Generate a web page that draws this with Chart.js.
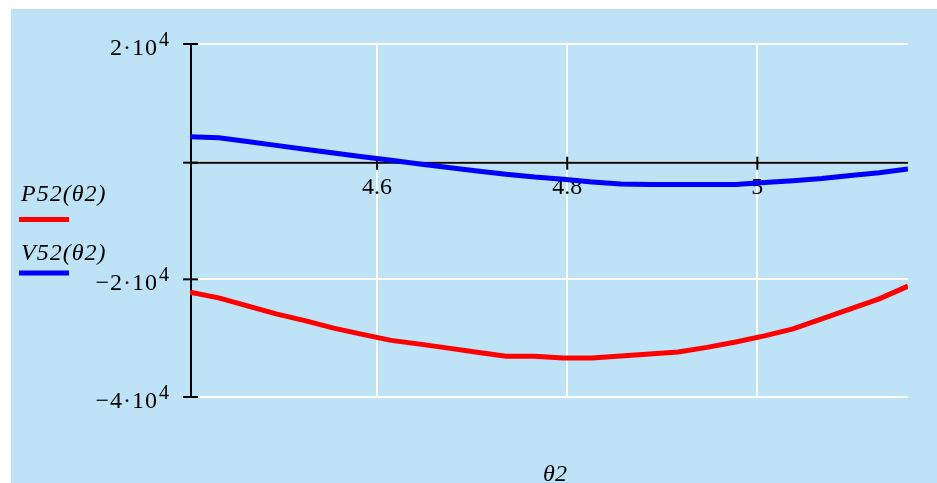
<!DOCTYPE html>
<html>
<head>
<meta charset="utf-8">
<script src="https://cdn.jsdelivr.net/npm/chart.js@4.4.0/dist/chart.umd.min.js"></script>
<style>
  html, body { margin: 0; padding: 0; background: #ffffff; }
  #wrap { position: relative; width: 937px; height: 483px; overflow: hidden; }
  #panel { position: absolute; left: 11px; top: 9px; width: 926px; height: 474px; background: #BEE3F6; }
  #c { position: absolute; left: 0; top: 0; }
</style>
</head>
<body>
<div id="wrap">
  <div id="panel"></div>
  <canvas id="c" width="937" height="483"></canvas>
</div>
<script>
// ---- data ----
const thetaValues = [4.4032, 4.4334, 4.4636, 4.4938, 4.5240, 4.5543, 4.5845, 4.6147, 4.6449, 4.6751,
                     4.7053, 4.7355, 4.7657, 4.7959, 4.8261, 4.8564, 4.8866, 4.9168, 4.9470, 4.9772,
                     5.0074, 5.0376, 5.0678, 5.0980, 5.1282, 5.1585];
const p52Values = [-22200, -23150, -24500, -25870, -27010, -28300, -29360, -30380, -31010, -31690,
                   -32390, -33070, -33070, -33360, -33360, -33050, -32680, -32340, -31570, -30640,
                   -29620, -28420, -26720, -25020, -23320, -21160];
const v52Values = [4250, 4080, 3440, 2770, 2110, 1460, 820, 250, -400, -1000,
                   -1600, -2130, -2620, -3000, -3450, -3800, -3900, -3900, -3900, -3900,
                   -3550, -3250, -2870, -2370, -1900, -1250];
const seriesNames = ['P52(\u03B82)', 'V52(\u03B82)'];
const seriesColors = ['#FF0000', '#0000FF'];
const xTickValues = [4.6, 4.8, 5];
const xTickLabels = ['4.6', '4.8', '5'];
const yTickValues = [-40000, -20000, 0, 20000];
const yTickBases = ['\u22124\u00B710', '\u22122\u00B710', '', '2\u00B710'];
const yTickExps = ['4', '4', '', '4'];
const xTitle = '\u03B82';
const xMin = 4.4032, xMax = 5.1585, yMin = -40000, yMax = 20000;

const SERIF = '"Liberation Serif", "Times New Roman", serif';

const decor = {
  id: 'decor',
  beforeDatasetsDraw(chart) {
    const ctx = chart.ctx, ca = chart.chartArea;
    const xs = chart.scales.x, ys = chart.scales.y;
    const z = ys.getPixelForValue(0);
    ctx.save();
    ctx.strokeStyle = '#000';
    ctx.lineWidth = 2;
    // zero line (x axis)
    ctx.beginPath(); ctx.moveTo(ca.left, z + 1); ctx.lineTo(ca.right, z + 1); ctx.stroke();
    // y axis
    ctx.beginPath(); ctx.moveTo(ca.left + 1, ca.top); ctx.lineTo(ca.left + 1, ca.bottom); ctx.stroke();
    // y tick marks
    yTickValues.forEach(v => {
      const p = ys.getPixelForValue(v) + (v === 0 ? 1 : 0);
      ctx.beginPath(); ctx.moveTo(ca.left - 7, p); ctx.lineTo(ca.left + 8, p); ctx.stroke();
    });
    // x tick marks
    xTickValues.forEach(v => {
      const p = xs.getPixelForValue(v);
      ctx.beginPath(); ctx.moveTo(p, z - 5); ctx.lineTo(p, z + 8); ctx.stroke();
    });
    ctx.restore();
  },
  afterDraw(chart) {
    const ctx = chart.ctx, ys = chart.scales.y;
    ctx.save();
    ctx.fillStyle = '#000';
    // y tick labels with superscript exponent
    yTickValues.forEach((v, i) => {
      if (!yTickBases[i]) return;
      const p = ys.getPixelForValue(v);
      ctx.font = '20px ' + SERIF;
      ctx.textAlign = 'right';
      ctx.textBaseline = 'alphabetic';
      const expRight = 169;
      const ew = ctx.measureText(yTickExps[i]).width;
      ctx.fillText(yTickExps[i], expRight, p + 2);
      ctx.font = '24px ' + SERIF;
      try { ctx.letterSpacing = '1px'; } catch (e) {}
      ctx.fillText(yTickBases[i], expRight - ew - 1, p + 11);
      try { ctx.letterSpacing = '0px'; } catch (e) {}
    });
    // legend
    ctx.textAlign = 'left';
    ctx.textBaseline = 'alphabetic';
    ctx.font = 'italic 24px ' + SERIF;
    const legendBase = [201, 260];
    const legendLine = [219.5, 273];
    seriesNames.forEach((n, i) => {
      ctx.fillStyle = '#000';
      try { ctx.letterSpacing = '1px'; } catch (e) {}
      ctx.fillText(n, 21, legendBase[i]);
      try { ctx.letterSpacing = '0px'; } catch (e) {}
      ctx.strokeStyle = seriesColors[i];
      ctx.lineWidth = 5;
      ctx.beginPath(); ctx.moveTo(19, legendLine[i]); ctx.lineTo(69, legendLine[i]); ctx.stroke();
    });
    // x title
    ctx.fillStyle = '#000';
    ctx.textAlign = 'center';
    ctx.font = 'italic 24px ' + SERIF;
    ctx.fillText(xTitle, 555, 481);
    ctx.restore();
  }
};

new Chart(document.getElementById('c'), {
  type: 'line',
  data: {
    datasets: [
      {
        label: seriesNames[0],
        data: thetaValues.map((t, i) => ({ x: t, y: p52Values[i] })),
        borderColor: seriesColors[0], borderWidth: 5, pointRadius: 0, tension: 0, fill: false
      },
      {
        label: seriesNames[1],
        data: thetaValues.map((t, i) => ({ x: t, y: v52Values[i] })),
        borderColor: seriesColors[1], borderWidth: 5, pointRadius: 0, tension: 0, fill: false
      }
    ]
  },
  options: {
    responsive: false,
    animation: false,
    events: [],
    layout: { padding: { left: 190, top: 44, right: 29, bottom: 86 } },
    plugins: { legend: { display: false }, tooltip: { enabled: false } },
    scales: {
      x: {
        type: 'linear', min: xMin, max: xMax,
        position: { y: 0 },
        afterBuildTicks: s => { s.ticks = xTickValues.map(v => ({ value: v })); },
        afterFit: s => { s.height = 0; },
        ticks: {
          autoSkip: false, maxRotation: 0, padding: 12, color: '#000',
          font: { family: SERIF, size: 24 },
          callback: v => { const i = xTickValues.findIndex(t => Math.abs(t - v) < 1e-9); return i >= 0 ? xTickLabels[i] : ''; }
        },
        grid: { color: '#FFFFFF', lineWidth: 2, drawTicks: false },
        border: { display: false }
      },
      y: {
        type: 'linear', min: yMin, max: yMax,
        afterBuildTicks: s => { s.ticks = yTickValues.map(v => ({ value: v })); },
        afterFit: s => { s.width = 0; },
        ticks: { display: false },
        grid: { color: '#FFFFFF', lineWidth: 2, drawTicks: false },
        border: { display: false }
      }
    }
  },
  plugins: [decor]
});
</script>
</body>
</html>
